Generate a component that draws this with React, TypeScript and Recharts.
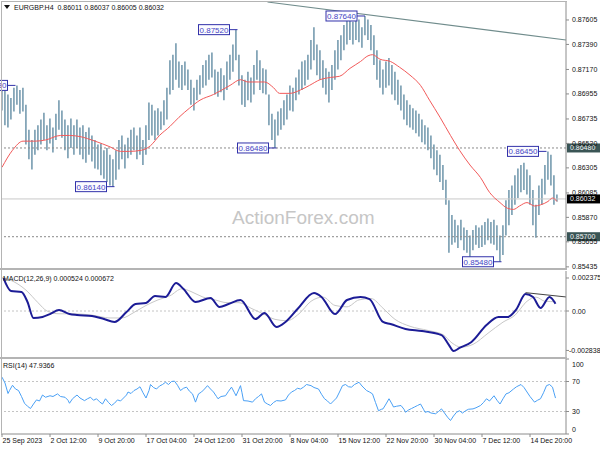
import React from 'react';
import { ComposedChart, Bar, Line, XAxis, YAxis, ReferenceLine, ReferenceDot } from 'recharts';

const FONT = '"Liberation Sans", Arial, sans-serif';

// EURGBP H4, one range bar for every second H4 bar (high / low)
const barHigh = [
  0.8703, 0.8701, 0.8695, 0.8692, 0.8701, 0.8703, 0.8699, 0.8701, 0.8686, 0.8664,
  0.8655, 0.8664, 0.8668, 0.8673, 0.8679, 0.8668, 0.8674, 0.8666, 0.8678, 0.8690,
  0.8681, 0.8673, 0.8668, 0.8674, 0.8668, 0.8673, 0.8666, 0.8668, 0.8662, 0.8666,
  0.8659, 0.8655, 0.8651, 0.8652, 0.8646, 0.8648, 0.8642, 0.8638, 0.8646, 0.8655,
  0.8659, 0.8651, 0.8657, 0.8664, 0.8666, 0.8659, 0.8666, 0.8655, 0.8668, 0.8688,
  0.8686, 0.8681, 0.8683, 0.8680, 0.8690, 0.8701, 0.8725, 0.8730, 0.8740, 0.8724,
  0.8721, 0.8724, 0.8717, 0.8708, 0.8701, 0.8708, 0.8712, 0.8721, 0.8725, 0.8730,
  0.8732, 0.8717, 0.8715, 0.8718, 0.8712, 0.8724, 0.8730, 0.8739, 0.8752, 0.8730,
  0.8712, 0.8708, 0.8715, 0.8710, 0.8721, 0.8734, 0.8725, 0.8718, 0.8717, 0.8695,
  0.8678, 0.8673, 0.8680, 0.8683, 0.8690, 0.8695, 0.8703, 0.8701, 0.8710, 0.8717,
  0.8724, 0.8725, 0.8730, 0.8743, 0.8754, 0.8739, 0.8734, 0.8725, 0.8718, 0.8715,
  0.8721, 0.8734, 0.8743, 0.8747, 0.8756, 0.8761, 0.8763, 0.8759, 0.8764, 0.8761,
  0.8754, 0.8764, 0.8761, 0.8756, 0.8747, 0.8734, 0.8725, 0.8717, 0.8724, 0.8727,
  0.8721, 0.8715, 0.8708, 0.8703, 0.8695, 0.8690, 0.8686, 0.8683, 0.8681, 0.8678,
  0.8673, 0.8668, 0.8666, 0.8659, 0.8651, 0.8646, 0.8642, 0.8633, 0.8620, 0.8602,
  0.8589, 0.8585, 0.8580, 0.8585, 0.8578, 0.8576, 0.8571, 0.8576, 0.8580, 0.8578,
  0.8580, 0.8583, 0.8586, 0.8583, 0.8585, 0.8580, 0.8571, 0.8580, 0.8602, 0.8611,
  0.8615, 0.8624, 0.8630, 0.8633, 0.8635, 0.8629, 0.8624, 0.8611, 0.8598, 0.8615,
  0.8621, 0.8633, 0.8645, 0.8642, 0.8624, 0.8607,
];
const barLow = [
  0.8681, 0.8668, 0.8666, 0.8673, 0.8680, 0.8686, 0.8678, 0.8680, 0.8651, 0.8638,
  0.8629, 0.8642, 0.8646, 0.8651, 0.8655, 0.8646, 0.8652, 0.8644, 0.8655, 0.8664,
  0.8657, 0.8646, 0.8639, 0.8648, 0.8642, 0.8648, 0.8642, 0.8638, 0.8635, 0.8642,
  0.8636, 0.8630, 0.8629, 0.8624, 0.8621, 0.8618, 0.8615, 0.8614, 0.8620, 0.8629,
  0.8638, 0.8630, 0.8639, 0.8642, 0.8646, 0.8638, 0.8642, 0.8633, 0.8642, 0.8655,
  0.8659, 0.8655, 0.8659, 0.8664, 0.8668, 0.8673, 0.8695, 0.8699, 0.8708, 0.8701,
  0.8699, 0.8703, 0.8699, 0.8686, 0.8681, 0.8690, 0.8695, 0.8701, 0.8703, 0.8708,
  0.8710, 0.8695, 0.8693, 0.8697, 0.8690, 0.8699, 0.8708, 0.8715, 0.8725, 0.8703,
  0.8686, 0.8684, 0.8690, 0.8688, 0.8695, 0.8708, 0.8699, 0.8696, 0.8695, 0.8668,
  0.8655, 0.8648, 0.8659, 0.8664, 0.8668, 0.8673, 0.8681, 0.8680, 0.8690, 0.8695,
  0.8699, 0.8703, 0.8708, 0.8717, 0.8725, 0.8712, 0.8708, 0.8701, 0.8695, 0.8688,
  0.8699, 0.8708, 0.8717, 0.8725, 0.8734, 0.8739, 0.8743, 0.8739, 0.8743, 0.8741,
  0.8736, 0.8747, 0.8743, 0.8734, 0.8721, 0.8708, 0.8701, 0.8695, 0.8701, 0.8703,
  0.8695, 0.8690, 0.8686, 0.8681, 0.8673, 0.8668, 0.8666, 0.8664, 0.8661, 0.8658,
  0.8653, 0.8651, 0.8646, 0.8639, 0.8629, 0.8624, 0.8618, 0.8611, 0.8598, 0.8556,
  0.8563, 0.8565, 0.8560, 0.8567, 0.8558, 0.8556, 0.8552, 0.8558, 0.8563, 0.8560,
  0.8561, 0.8563, 0.8567, 0.8564, 0.8563, 0.8558, 0.8548, 0.8554, 0.8571, 0.8580,
  0.8589, 0.8598, 0.8604, 0.8609, 0.8611, 0.8607, 0.8598, 0.8580, 0.8569, 0.8589,
  0.8598, 0.8607, 0.8620, 0.8615, 0.8598, 0.8601,
];

// moving average (red)
const maBars = [
  0, 7, 14, 22, 29, 39, 45, 52, 62, 72, 79, 85, 93, 99, 105, 112, 118, 125, 132, 141,
  152, 159, 164, 171, 175, 181, 185, 192, 199, 205, 212, 219, 225, 232, 239, 244, 247, 252, 259, 265,
  272, 279, 285, 292, 299, 305, 312, 319, 325, 332, 337, 341, 345, 350, 355, 359, 364, 367, 370,
];
const maValues = [
  0.8631, 0.8646, 0.8654, 0.8654, 0.8655, 0.8659, 0.8659, 0.8658, 0.8654, 0.8649,
  0.8645, 0.8645, 0.8646, 0.8650, 0.8659, 0.8667, 0.8675, 0.8683, 0.8690, 0.8695,
  0.8703, 0.8708, 0.8706, 0.8706, 0.8706, 0.8701, 0.8696, 0.8696, 0.8699, 0.8703,
  0.8708, 0.8710, 0.8711, 0.8718, 0.8724, 0.8729, 0.8730, 0.8726, 0.8724, 0.8719,
  0.8712, 0.8703, 0.8690, 0.8675, 0.8659, 0.8646, 0.8633, 0.8622, 0.8609, 0.8600,
  0.8595, 0.8594, 0.8597, 0.8600, 0.8597, 0.8598, 0.8601, 0.8604, 0.8601,
];

// MACD(12,26,9)
const macdBars = [
  1, 6, 13, 17, 21, 27, 32, 38, 45, 50, 60, 68, 75, 83, 89, 96, 102, 109, 116, 121,
  129, 139, 145, 151, 159, 169, 175, 183, 189, 197, 208, 213, 222, 230, 239, 245, 254, 259, 269, 280,
  293, 298, 301, 305, 313, 323, 331, 337, 343, 349, 354, 359, 365, 369,
];
const macdValues = [
  0.00237, 0.00144, 0.00137, 0.00065, -0.0005, -0.00043, -0.00022, 0.00007, -0.00022, -0.00029,
  -0.00036, -0.00058, -0.00079, -0.00007, 0.0005, 0.00058, 0.00108, 0.00101, 0.00201, 0.00158,
  0.00065, 0.00094, 0.00029, 0.0005, 0.00079, -0.00058, -0.00014, -0.00115, -0.00079, 0.00014,
  0.00129, 0.00101, -0.00022, 0.00079, 0.00101, 0.00086, -0.00079, -0.00094, -0.00129, -0.00144,
  -0.00173, -0.00245, -0.00288, -0.00266, -0.00223, -0.00101, -0.00043, -0.00043, 0.00014, 0.00122,
  0.00101, 0.00022, 0.00101, 0.000524,
];
const signalBars = [
  0, 8, 16, 24, 30, 38, 48, 60, 72, 80, 88, 96, 104, 112, 120, 126, 134, 142, 150, 158,
  166, 174, 182, 190, 198, 206, 214, 222, 230, 238, 246, 254, 262, 272, 284, 294, 300, 306, 314, 324,
  334, 342, 350, 356, 362, 369,
];
const signalValues = [
  0.0024, 0.0021, 0.0015, 0.0006, 0.0, -0.0002, -0.0002, -0.0003, -0.0005, -0.0005,
  -0.0001, 0.0004, 0.0008, 0.0011, 0.0016, 0.0014, 0.001, 0.0008, 0.0006, 0.0006,
  0.0002, -0.0002, -0.0006, -0.0007, -0.0002, 0.0007, 0.001, 0.0004, 0.0003, 0.0008,
  0.0009, 0.0002, -0.0006, -0.0011, -0.0014, -0.0017, -0.0023, -0.0026, -0.0024, -0.0016,
  -0.0008, -0.0003, 0.0007, 0.001, 0.0007, 0.000672,
];

// RSI(14)
const rsiBars = [
  0, 2, 4, 5, 7, 9, 11, 13, 15, 17,
  19, 21, 23, 25, 27, 29, 32, 34, 37, 39,
  42, 44, 45, 47, 50, 52, 55, 57, 59, 61,
  63, 65, 67, 69, 71, 73, 75, 77, 79, 81,
  83, 84, 86, 88, 90, 92, 94, 96, 98, 99,
  101, 103, 105, 107, 109, 111, 113, 115, 117, 119,
  121, 123, 125, 127, 129, 131, 133, 135, 137, 139,
  141, 143, 144, 146, 149, 151, 153, 155, 156, 158,
  159, 160, 161, 164, 167, 169, 171, 173, 175, 177,
  179, 181, 183, 186, 189, 191, 193, 195, 197, 199,
  201, 203, 206, 208, 211, 213, 215, 217, 219, 221,
  223, 225, 227, 229, 231, 233, 235, 238, 240, 243,
  245, 247, 249, 251, 253, 254, 256, 258, 260, 261,
  263, 266, 268, 269, 271, 273, 275, 277, 279, 281,
  282, 284, 286, 289, 291, 293, 295, 297, 299, 301,
  303, 305, 307, 309, 311, 314, 316, 319, 321, 323,
  325, 328, 330, 332, 334, 336, 338, 341, 343, 346,
  348, 350, 352, 355, 357, 359, 361, 363, 365, 367,
  368, 369,
];
const rsiValues = [
  75.8, 68, 54, 58, 65, 60, 58, 50, 41, 37,
  34, 40, 45.5, 44, 52, 49, 51, 50, 53.5, 50,
  49, 45, 41, 47, 52, 48, 44.5, 47, 49, 45,
  47, 43, 40, 47, 42, 38, 41, 45.5, 44, 48,
  52, 56, 54, 58, 60, 63, 55, 48, 58, 66,
  62, 60, 64, 66, 69, 66, 70, 70.5, 65, 58,
  61, 62.5, 57, 53.5, 42.5, 53.5, 56, 60, 64.5, 60,
  56, 50, 47, 50, 51, 57, 62.5, 55, 51, 60,
  64.5, 55, 44.5, 44, 42.5, 47, 50, 53.5, 42.5, 40,
  38, 42, 44.5, 44, 45.5, 52, 56, 58, 61, 60,
  62.5, 66, 64.5, 62, 60, 53, 47, 44, 40, 44,
  48, 56, 64.5, 66, 63, 62.5, 66, 69, 64, 58,
  56, 53.5, 42, 31, 33, 33.5, 40, 47, 40, 36,
  37, 38, 33, 29, 32, 34, 36, 38, 40, 33,
  29, 30, 28, 27, 30, 33.5, 28, 22.5, 18, 24,
  29, 31, 28, 31, 33, 33.5, 35, 38, 42, 47,
  44, 51, 45, 40, 47, 53.5, 55, 60, 63, 66,
  62, 56, 50, 42.5, 45, 47, 55, 64.5, 66, 62.5,
  55, 47.9366,
];

// annotations
const tagBars = [9, 75, 157, 183, 242, 333, 363];
const tagPrices = [0.8703, 0.8614, 0.8752, 0.8648, 0.8764, 0.8548, 0.8645];
const tagTexts = ['0.87030', '0.86140', '0.87520', '0.86480', '0.87640', '0.85480', '0.86450'];

const timeTicks = [0, 32, 64, 96, 128, 160, 192, 224, 256, 288, 320, 352];
const timeLabels = [
  '25 Sep 2023', '2 Oct 12:00', '9 Oct 20:00', '17 Oct 04:00', '24 Oct 12:00', '31 Oct 20:00',
  '8 Nov 04:00', '15 Nov 12:00', '22 Nov 20:00', '30 Nov 04:00', '7 Dec 12:00', '14 Dec 20:00',
];
const priceTicks = [0.87605, 0.8739, 0.8717, 0.86955, 0.86735, 0.8652, 0.86305, 0.86085, 0.8587, 0.85655, 0.85435];
const macdTicks = [0.002375, 0, -0.002838];
const rsiTicks = [100, 70, 30, 0];

const priceRows = barHigh.map((h, i) => ({ bar: i * 2, range: [barLow[i], h] }));
const maRows = maBars.map((b, i) => ({ bar: b, v: maValues[i] }));
const macdRows = macdBars.map((b, i) => ({ bar: b, v: macdValues[i] }));
const signalRows = signalBars.map((b, i) => ({ bar: b, v: signalValues[i] }));
const rsiRows = rsiBars.map((b, i) => ({ bar: b, v: rsiValues[i] }));

const barDomain: [number, number] = [-0.67, 376];
const AXIS = '#8c8c8c';

const AxisText = ({ x, y, text, nudge = 0 }: any) => (
  <text x={x + 1} y={y + nudge} dy={2.5} fontSize={7} fontFamily={FONT} fill="#111" textAnchor="start">
    {text}
  </text>
);

const AxisFlag = ({ viewBox, text, bg }: any) => {
  const x = viewBox.x + viewBox.width + 1;
  const y = viewBox.y;
  return (
    <g>
      <rect x={x} y={y - 4.5} width={33} height={9} fill={bg} />
      <text x={x + 3} y={y} dy={2.5} fontSize={7} fontFamily={FONT} fill="#f2f2f2">{text}</text>
    </g>
  );
};

const PriceTag = ({ cx, cy, text }: any) => {
  const right = cx - 8;
  return (
    <g>
      <line x1={right} y1={cy} x2={cx} y2={cy} stroke="#3232aa" strokeWidth={1} />
      <rect x={right - 31} y={cy - 5} width={31} height={10} fill="#fbfbff" stroke="#3232aa" strokeWidth={1} />
      <text x={right - 15.5} y={cy} dy={3} textAnchor="middle" fontSize={8} fontFamily={FONT} fill="#4646c4">
        {text}
      </text>
    </g>
  );
};

const hLine = (top: number, height: number, left = 0, width = 567) => (
  <div style={{ position: 'absolute', top, left, width, height, background: '#b4b4b4' }} />
);

export default function App() {
  return (
    <div style={{ position: 'absolute', left: 0, top: 0, width: 600, height: 450, background: '#fff', fontFamily: FONT, overflow: 'hidden' }}>
      <div style={{ position: 'absolute', left: 232, top: 207, fontSize: 19, color: '#c6c6c6' }}>ActionForex.com</div>

      <div style={{ position: 'absolute', left: 0, top: 0 }}>
        <ComposedChart width={600} height={270} data={priceRows} margin={{ top: 2, right: 0, bottom: 2, left: 1 }}>
          <XAxis type="number" dataKey="bar" domain={barDomain} hide allowDataOverflow />
          <YAxis
            orientation="right"
            width={34}
            domain={[0.85425, 0.87763]}
            allowDataOverflow
            ticks={priceTicks}
            interval={0}
            tickSize={3}
            axisLine={{ stroke: AXIS }}
            tickLine={{ stroke: AXIS }}
            tick={(p: any) => <AxisText x={p.x} y={p.y} text={p.payload.value.toFixed(5)} />}
          />
          <ReferenceLine
            segment={[{ x: 177, y: 0.87763 }, { x: 376, y: 0.87429 }]}
            stroke="#708c8c"
            strokeWidth={1.2}
          />
          <ReferenceLine y={0.8648} stroke="#8a8a8a" strokeDasharray="2 2" label={<AxisFlag text="0.86480" bg="#3a5555" />} />
          <ReferenceLine y={0.857} stroke="#8a8a8a" strokeDasharray="2 2" label={<AxisFlag text="0.85700" bg="#3a5555" />} />
          <ReferenceLine y={0.86032} stroke="#c8c8c8" label={<AxisFlag text="0.86032" bg="#000" />} />
          <Bar dataKey="range" fill="#5c88a0" barSize={2} isAnimationActive={false} />
          <Line data={maRows} dataKey="v" type="monotone" stroke="#f25a5a" strokeWidth={1} dot={false} isAnimationActive={false} />
          {tagBars.map((b, i) => (
            <ReferenceDot
              key={tagTexts[i]}
              x={b}
              y={tagPrices[i]}
              r={0}
              ifOverflow="visible"
              shape={(p: any) => <PriceTag cx={p.cx} cy={p.cy} text={tagTexts[i]} />}
            />
          ))}
        </ComposedChart>
      </div>

      <div style={{ position: 'absolute', left: 0, top: 269 }}>
        <ComposedChart width={600} height={89} data={macdRows} margin={{ top: 2, right: 0, bottom: 1, left: 1 }}>
          <XAxis type="number" dataKey="bar" domain={barDomain} hide allowDataOverflow />
          <YAxis
            orientation="right"
            width={34}
            domain={[-0.003309, 0.002878]}
            allowDataOverflow
            ticks={macdTicks}
            interval={0}
            tickSize={3}
            axisLine={{ stroke: AXIS }}
            tickLine={{ stroke: AXIS }}
            tick={(p: any) => (
              <AxisText
                x={p.x - (p.payload.value < 0 ? 3 : 0)}
                y={p.y}
                text={p.payload.value === 0 ? '0.00' : p.payload.value.toFixed(6)}
              />
            )}
          />
          <ReferenceLine y={0} stroke="#c4c4c4" strokeDasharray="2 2" />
          <Line data={signalRows} dataKey="v" type="monotone" stroke="#c8c8c8" strokeWidth={1} dot={false} isAnimationActive={false} />
          <Line data={macdRows} dataKey="v" type="monotone" stroke="#1c1c96" strokeWidth={2} dot={false} isAnimationActive={false} />
          <ReferenceLine segment={[{ x: 349, y: 0.00132 }, { x: 376, y: 0.00101 }]} stroke="#444" strokeWidth={1} />
        </ComposedChart>
      </div>

      <div style={{ position: 'absolute', left: 0, top: 358 }}>
        <ComposedChart width={600} height={92} data={rsiRows} margin={{ top: 1, right: 0, bottom: 0, left: 1 }}>
          <XAxis
            type="number"
            dataKey="bar"
            domain={barDomain}
            allowDataOverflow
            height={16}
            ticks={timeTicks}
            interval={0}
            tickSize={3}
            axisLine={{ stroke: AXIS }}
            tickLine={{ stroke: AXIS }}
            tick={(p: any) => (
              <text x={p.x + 0.5} y={p.y} dy={4} fontSize={7} fontFamily={FONT} fill="#111" textAnchor="start">
                {timeLabels[timeTicks.indexOf(p.payload.value)]}
              </text>
            )}
          />
          <YAxis
            orientation="right"
            width={34}
            domain={[0, 100]}
            ticks={rsiTicks}
            interval={0}
            tickSize={3}
            axisLine={{ stroke: AXIS }}
            tickLine={{ stroke: AXIS }}
            tick={(p: any) => (
              <AxisText
                x={p.x}
                y={p.y}
                nudge={p.payload.value === 100 ? 5 : p.payload.value === 0 ? -5 : 0}
                text={String(p.payload.value)}
              />
            )}
          />
          <ReferenceLine y={70} stroke="#c4c4c4" strokeDasharray="2 2" />
          <ReferenceLine y={30} stroke="#c4c4c4" strokeDasharray="2 2" />
          <Line dataKey="v" type="linear" stroke="#4aa0f5" strokeWidth={1} dot={false} isAnimationActive={false} />
        </ComposedChart>
      </div>

      {hLine(1, 1, 1, 566)}
      <div style={{ position: 'absolute', top: 1, left: 1, width: 1, height: 433, background: '#b4b4b4' }} />
      {hLine(268, 2)}
      {hLine(357, 2)}

      <div style={{ position: 'absolute', left: 4, top: 4, fontSize: 7, lineHeight: '8px', color: '#111', whiteSpace: 'pre' }}>
        <svg width={6} height={5} style={{ marginRight: 4 }}>
          <polygon points="0,0 6,0 3,4" fill="#111" />
        </svg>
        {'EURGBP.H4  0.86011 0.86037 0.86005 0.86032'}
      </div>
      <div style={{ position: 'absolute', left: 3, top: 275, fontSize: 7, lineHeight: '8px', color: '#111' }}>
        MACD(12,26,9) 0.000524 0.000672
      </div>
      <div style={{ position: 'absolute', left: 3, top: 362, fontSize: 7, lineHeight: '8px', color: '#111' }}>
        RSI(14) 47.9366
      </div>
    </div>
  );
}
